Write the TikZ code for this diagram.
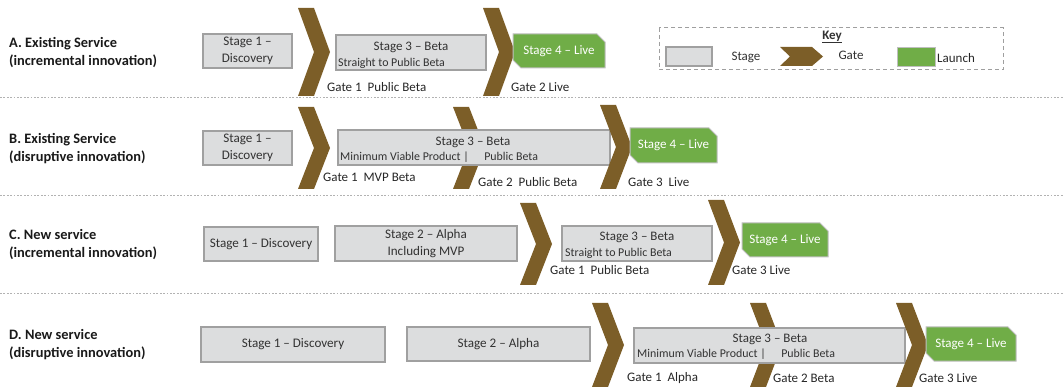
\documentclass[tikz,border=0pt]{standalone}
\usepackage{fontspec}
\setmainfont{Carlito}
\usetikzlibrary{shapes.misc}
\definecolor{stagegray}{RGB}{220,221,222}
\definecolor{stageline}{RGB}{160,160,160}
\definecolor{gatebrown}{RGB}{124,94,40}
\definecolor{livegreen}{RGB}{112,173,71}
\definecolor{txtgray}{RGB}{50,50,50}

\begin{document}
\begin{tikzpicture}[x=1pt,y=-1pt,
                    stage/.style={rectangle,draw=stageline,fill=stagegray,line width=1.2pt,inner sep=0pt,
                                  align=center,text=txtgray,font=\fontsize{13.1}{16.5}\selectfont},
                    launch/.style={chamfered rectangle,chamfered rectangle corners={north east,south west},
                                   chamfered rectangle xsep=4pt,chamfered rectangle ysep=4pt,
                                   draw=gray!50,fill=livegreen,line width=1pt,inner sep=0pt,
                                   text=white,font=\fontsize{13}{15}\selectfont},
                    ttl/.style={inner sep=0pt,text=txtgray,font=\fontsize{13}{15}\selectfont},
                    sub/.style={inner sep=0pt,anchor=west,text=txtgray,font=\fontsize{11.9}{14}\selectfont},
                    glbl/.style={inner sep=0pt,anchor=west,text=black!85,font=\fontsize{13}{15}\selectfont},
                    rowlbl/.style={inner sep=0pt,anchor=west,align=left,text=black!90,
                                   font=\bfseries\fontsize{14.4}{18}\selectfont},
                    sep/.style={draw=gray!60,line width=0.8pt,dash pattern=on 1.8pt off 1.6pt},
                    keybox/.style={draw=gray!75,line width=1pt,dash pattern=on 4pt off 3pt},
                    pics/gate/.style={code={\fill[gatebrown] (0,0) -- (16,0) -- (32,#1/2) -- (16,#1)
                                                             -- (0,#1) -- (16,#1/2) -- cycle;}}]
  \useasboundingbox (0,0) rectangle (1063,387);
  % separators
  \draw[sep] (0,97) -- (1063,97);
  \draw[sep] (0,195) -- (1063,195);
  \draw[sep] (0,293) -- (1063,293);

  % A. existing service, incremental
  \node[rowlbl] (rowa) at (9,52.5) {A. Existing Service\\(incremental innovation)};
  \node[stage,minimum width=89pt,minimum height=34pt] (a1) at (247.5,51) {Stage 1 –\\Discovery};
  \pic at (298,8) {gate=88};
  \node[stage,minimum width=150pt,minimum height=35pt] (a3) at (411,52.5) {};
  \node[ttl] (a3t) at (411,47) {Stage 3 – Beta};
  \node[sub] (a3s) at (338,63) {Straight to Public Beta};
  \pic at (483,8) {gate=88};
  \node[launch,minimum width=92pt,minimum height=34pt] (a4) at (559,51) {Stage 4 – Live};
  \node[glbl] (ag1) at (327,87) {Gate 1\ \ Public Beta};
  \node[glbl] (ag2) at (511,87) {Gate 2 Live};

  % key
  \draw[keybox] (659,28) rectangle (1003,70);
  \node[ttl,font=\bfseries\fontsize{13}{15}\selectfont] (keyt) at (832,37) {\underline{Key}};
  \node[stage,minimum width=46pt,minimum height=19pt] (kst) at (689,56.5) {};
  \node[ttl] (kstl) at (746,57) {Stage};
  \fill[gatebrown] (780,47) -- (812,47) -- (823,56.5) -- (812,66) -- (780,66) -- (790,56.5) -- cycle;
  \node[ttl] (kgtl) at (851,55) {Gate};
  \node[launch,minimum width=38pt,minimum height=19pt] (kla) at (916,57.5) {};
  \node[glbl] (klal) at (937,58) {Launch};

  % B. existing service, disruptive
  \node[rowlbl] (rowb) at (9,149) {B. Existing Service\\(disruptive innovation)};
  \node[stage,minimum width=89pt,minimum height=34pt] (b1) at (247.5,148) {Stage 1 –\\Discovery};
  \pic at (298,107) {gate=82};
  \pic at (453,107) {gate=82};
  \node[stage,minimum width=272pt,minimum height=35pt] (b3) at (474,147.5) {};
  \node[ttl] (b3t) at (473,142) {Stage 3 – Beta};
  \node[sub] (b3s) at (340,157) {Minimum Viable Product |\hspace{1.3em}Public Beta};
  \pic at (600,105) {gate=84};
  \node[launch,minimum width=87pt,minimum height=35pt] (b4) at (673.5,145.5) {Stage 4 – Live};
  \node[glbl] (bg1) at (323,177) {Gate 1\ \ MVP Beta};
  \node[glbl] (bg2) at (478,182) {Gate 2\ \ Public Beta};
  \node[glbl] (bg3) at (628,182) {Gate 3\ \ Live};

  % C. new service, incremental
  \node[rowlbl] (rowc) at (9,244.5) {C. New service\\(incremental innovation)};
  \node[stage,minimum width=114pt,minimum height=34pt] (c1) at (261,244) {Stage 1 – Discovery};
  \node[stage,minimum width=182pt,minimum height=35pt] (c2) at (426,243.5) {Stage 2 – Alpha\\Including MVP};
  \pic at (520,203) {gate=82};
  \node[stage,minimum width=150pt,minimum height=35pt] (c3) at (637,243.5) {};
  \node[ttl] (c3t) at (637,237) {Stage 3 – Beta};
  \node[sub] (c3s) at (565,253) {Straight to Public Beta};
  \pic at (708,200) {gate=85};
  \node[launch,minimum width=86pt,minimum height=34pt] (c4) at (785,240) {Stage 4 – Live};
  \node[glbl] (cg1) at (550,270) {Gate 1\ \ Public Beta};
  \node[glbl] (cg3) at (732,270) {Gate 3 Live};

  % D. new service, disruptive
  \node[rowlbl] (rowd) at (9,344.5) {D. New service\\(disruptive innovation)};
  \node[stage,minimum width=184pt,minimum height=35pt] (d1) at (293,344.5) {Stage 1 – Discovery};
  \node[stage,minimum width=183pt,minimum height=34pt] (d2) at (498.5,344) {Stage 2 – Alpha};
  \pic at (592,303) {gate=84};
  \pic at (750,303) {gate=84};
  \node[stage,minimum width=271pt,minimum height=35pt] (d3) at (769.5,345.5) {};
  \node[ttl] (d3t) at (770,339) {Stage 3 – Beta};
  \node[sub] (d3s) at (637,354) {Minimum Viable Product |\hspace{1.3em}Public Beta};
  \pic at (896,303) {gate=84};
  \node[launch,minimum width=90pt,minimum height=34pt] (d4) at (971,344) {Stage 4 – Live};
  \node[glbl] (dg1) at (627,378) {Gate 1\ \ Alpha};
  \node[glbl] (dg2) at (773,378) {Gate 2 Beta};
  \node[glbl] (dg3) at (919,378) {Gate 3 Live};
\end{tikzpicture}
\end{document}
